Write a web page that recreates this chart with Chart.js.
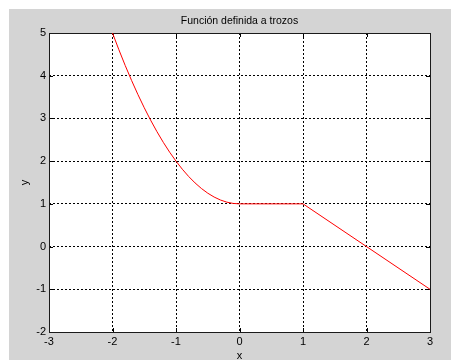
<!DOCTYPE html>
<html>
<head>
<meta charset="utf-8">
<script src="https://cdn.jsdelivr.net/npm/chart.js@4/dist/chart.umd.min.js"></script>
<style>
  html, body { margin: 0; padding: 0; background: #ffffff; }
  #c { display: block; }
</style>
</head>
<body>
<canvas id="c" width="451" height="360" style="width:451px;height:360px"></canvas>
<script>
// ---- data ----
const titleText = "Función definida a trozos";
const xLabel = "x";
const yLabel = "y";
const xValues = [-2, -1.9, -1.8, -1.7, -1.6, -1.5, -1.4, -1.3, -1.2, -1.1, -1,
                 -0.9, -0.8, -0.7, -0.6, -0.5, -0.4, -0.3, -0.2, -0.1, 0, 1, 3];
const yValues = [5, 4.61, 4.24, 3.89, 3.56, 3.25, 2.96, 2.69, 2.44, 2.21, 2,
                 1.81, 1.64, 1.49, 1.36, 1.25, 1.16, 1.09, 1.04, 1.01, 1, 1, -1];
const xTicks = [-3, -2, -1, 0, 1, 2, 3];
const yTicks = [-2, -1, 0, 1, 2, 3, 4, 5];

const FONT = "'Liberation Sans', Arial, sans-serif";

const bgPlugin = {
  id: 'bg',
  beforeDraw(chart) {
    const ctx = chart.ctx, a = chart.chartArea;
    ctx.save();
    ctx.fillStyle = '#ffffff';
    ctx.fillRect(0, 0, chart.width, chart.height);
    ctx.fillStyle = '#d4d4d4';
    ctx.fillRect(9, 9, chart.width - 9, chart.height - 9);
    ctx.fillStyle = '#ffffff';
    ctx.fillRect(a.left, a.top, a.right - a.left, a.bottom - a.top);
    ctx.restore();
  },
  beforeDatasetsDraw(chart) {
    const ctx = chart.ctx, a = chart.chartArea;
    const xs = chart.scales.x, ys = chart.scales.y;
    const L = 4;
    ctx.save();
    ctx.strokeStyle = '#000000';
    ctx.lineWidth = 1;
    ctx.setLineDash([]);
    ctx.beginPath();
    xTicks.forEach(v => {
      const px = Math.round(xs.getPixelForValue(v)) + 0.5;
      ctx.moveTo(px, a.bottom); ctx.lineTo(px, a.bottom - L);
      ctx.moveTo(px, a.top); ctx.lineTo(px, a.top + L);
    });
    yTicks.forEach(v => {
      const py = Math.round(ys.getPixelForValue(v)) + 0.5;
      ctx.moveTo(a.left, py); ctx.lineTo(a.left + L, py);
      ctx.moveTo(a.right, py); ctx.lineTo(a.right - L, py);
    });
    ctx.stroke();
    ctx.strokeStyle = '#1a1a1a';
    ctx.strokeRect(Math.round(a.left) + 0.5, Math.round(a.top) + 0.5,
                   Math.round(a.right - a.left), Math.round(a.bottom - a.top));
    ctx.restore();
  },
  afterDraw(chart) {
    const ctx = chart.ctx, a = chart.chartArea;
    ctx.save();
    ctx.fillStyle = '#000000';
    ctx.font = "10.5px " + FONT;
    ctx.textAlign = 'center';
    ctx.textBaseline = 'middle';
    ctx.fillText(titleText, (a.left + a.right) / 2, 21);
    ctx.restore();
  }
};

new Chart(document.getElementById('c'), {
  type: 'scatter',
  data: {
    datasets: [{
      data: xValues.map((x, i) => ({ x: x, y: yValues[i] })),
      showLine: true,
      borderColor: '#ff0000',
      backgroundColor: '#ff0000',
      borderWidth: 1,
      pointRadius: 0,
      tension: 0
    }]
  },
  options: {
    responsive: false,
    devicePixelRatio: 1,
    animation: false,
    layout: { padding: { left: 0, right: 21, top: 33, bottom: 0 } },
    plugins: {
      legend: { display: false },
      tooltip: { enabled: false },
      title: { display: false }
    },
    scales: {
      x: {
        type: 'linear',
        min: -3, max: 3,
        afterBuildTicks(scale) { scale.ticks = xTicks.map(v => ({ value: v })); },
        afterFit(scale) { scale.height = 28; },
        ticks: {
          color: '#000000',
          font: { family: FONT, size: 11 },
          padding: 3,
          maxRotation: 0,
          autoSkip: false
        },
        grid: { color: '#000000', lineWidth: 1, drawTicks: false },
        border: { display: false, dash: [2, 2] },
        title: {
          display: true,
          text: xLabel,
          color: '#000000',
          font: { family: FONT, size: 11, lineHeight: 1 },
          padding: { top: 0, bottom: -1.5 }
        }
      },
      y: {
        type: 'linear',
        min: -2, max: 5,
        afterBuildTicks(scale) { scale.ticks = yTicks.map(v => ({ value: v })); },
        afterFit(scale) { scale.width = 49; },
        ticks: {
          color: '#000000',
          font: { family: FONT, size: 11 },
          padding: 3,
          autoSkip: false
        },
        grid: { color: '#000000', lineWidth: 1, drawTicks: false },
        border: { display: false, dash: [2, 2] },
        title: {
          display: true,
          text: yLabel,
          color: '#000000',
          font: { family: FONT, size: 11, lineHeight: 1 },
          padding: { top: 19.5, bottom: 0 }
        }
      }
    }
  },
  plugins: [bgPlugin]
});
</script>
</body>
</html>
